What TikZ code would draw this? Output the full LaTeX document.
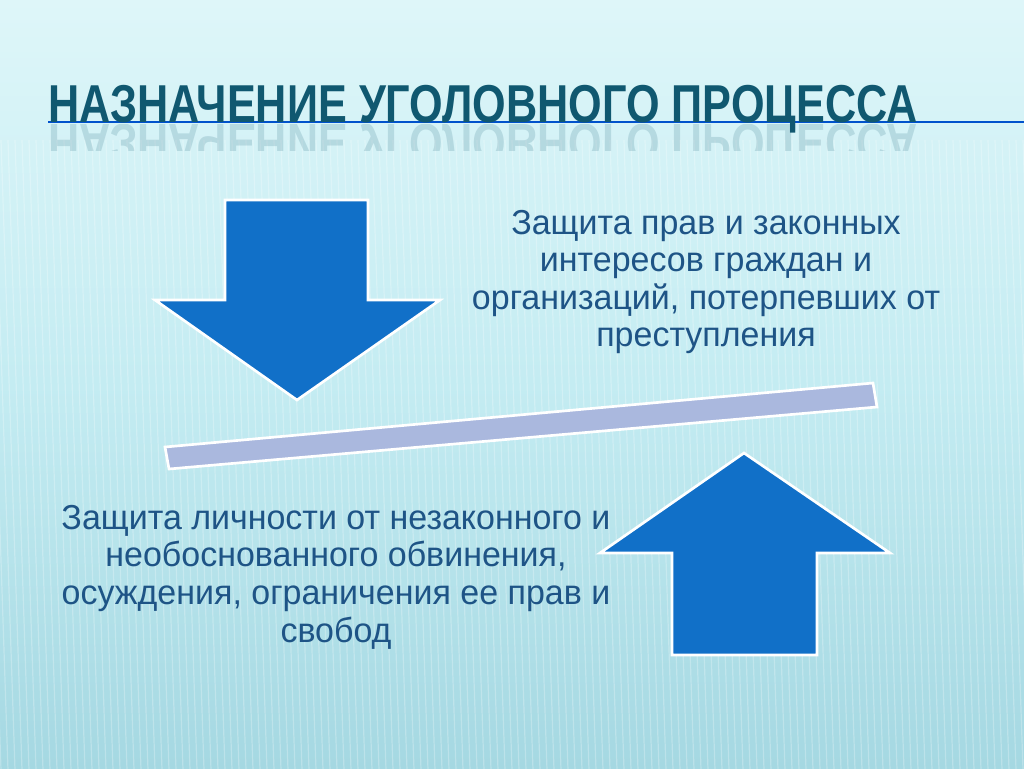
\documentclass[tikz,border=0pt]{standalone}
\usepackage{fontspec}
\setmainfont{Liberation Sans}[FakeStretch=0.98]
\newfontfamily\titlefont{Liberation Sans Bold}[FakeStretch=0.81]
\definecolor{arrowblue}{RGB}{17,112,200}
\definecolor{barblue}{RGB}{170,184,222}
\definecolor{titleteal}{RGB}{16,88,112}
\definecolor{textblue}{RGB}{30,84,134}
\definecolor{bgtop}{RGB}{222,246,249}
\definecolor{bgmid}{RGB}{196,236,242}
\definecolor{bgbot}{RGB}{165,216,226}

\begin{document}
\begin{tikzpicture}[x=0.75pt,y=-0.75pt,
	blk/.style={draw=white,line width=2pt,fill=arrowblue,line join=miter},
	bar/.style={draw=white,line width=2pt,fill=barblue},
	txt/.style={align=center,text=textblue,inner sep=0pt,
		font=\fontsize{26}{28.2}\selectfont},
	ttl/.style={anchor=base west,inner sep=0pt,text=titleteal,
		font=\titlefont\fontsize{40}{40}\selectfont},
	stripe/.style={white,line width=0.9pt,opacity=0.25}]
	\useasboundingbox (0,0) rectangle (1024,768);
	\shade[top color=bgtop,bottom color=bgbot,middle color=bgmid]
		(0,0) rectangle (1024,768);
	\begin{scope}
		\clip (0,0) rectangle (1024,768);
		\foreach \i in {-20,-13,...,1030}
			\draw[stripe] (\i,140) -- (\i+21,770);
	\end{scope}
	\draw[blue!60!cyan!80!black,line width=1.5pt] (48,122) -- (1024,122);
	\node[ttl] (title) at (48,122) {НАЗНАЧЕНИЕ УГОЛОВНОГО ПРОЦЕССА};
	\begin{scope}
		\clip (0,124) rectangle (1024,150);
		\node[ttl,yscale=-1,transform shape,opacity=0.16] (mirror) at (48,124)
			{НАЗНАЧЕНИЕ УГОЛОВНОГО ПРОЦЕССА};
	\end{scope}
	\draw[blk] (225,200) -- (368,200) -- (368,300) -- (440,300) -- (297,400)
		-- (155,300) -- (225,300) -- cycle;
	\draw[bar] (165,447) -- (873,383) -- (877,407) -- (169,469) -- cycle;
	\draw[blk] (744,453) -- (890,553) -- (817,553) -- (817,655) -- (672,655)
		-- (672,553) -- (600,553) -- cycle;
	\node[txt] (protect1) at (706,282) {Защита прав и законных\\интересов граждан и\\организаций, потерпевших от\\преступления};
	\node[txt] (protect2) at (336,577) {Защита личности от незаконного и\\необоснованного обвинения,\\осуждения, ограничения ее прав и\\свобод};
\end{tikzpicture}
\end{document}
